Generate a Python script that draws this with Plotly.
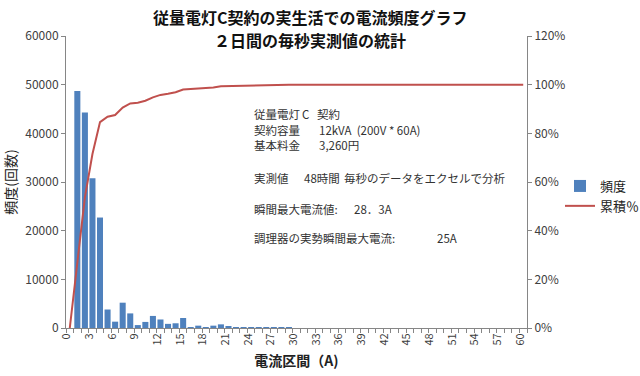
import plotly.graph_objects as go

# ---- data ----
current_bins = list(range(0, 61))
frequency = [0, 48700, 44300, 30750, 22700, 3800, 1300, 5200, 3000, 600,
             1250, 2480, 1750, 850, 970, 2060, 200, 480, 200, 480,
             750, 280, 200, 200, 150, 50, 100, 100, 100, 100] + [0] * 31
cumulative_pct = [0.0, 28.1, 53.7, 71.5, 84.6, 86.8, 87.5, 90.6, 92.3, 92.6,
                  93.4, 94.8, 95.8, 96.3, 96.9, 98.0, 98.2, 98.4, 98.5, 98.8,
                  99.3, 99.4, 99.5, 99.7, 99.7, 99.8, 99.8, 99.9, 99.9, 100.0] + [100.0] * 31
x_tick_labels = [str(v) for v in range(0, 61, 3)]

FONT = "Noto Sans CJK JP"
TXT = "#404040"

fig = go.Figure()
fig.add_trace(go.Bar(x=current_bins, y=frequency, name="頻度",
                     marker=dict(color="#4F81BD", line=dict(width=0))))
fig.add_trace(go.Scatter(x=current_bins, y=[v / 100 for v in cumulative_pct], name="累積％",
                         mode="lines", line=dict(color="#C0504D", width=2), yaxis="y2"))

L, R, T, B = 66, 113, 36, 48
W, H = 640, 376
pw, ph = W - L - R, H - T - B


def px(x):
    return (x - L) / pw


def py(y):
    return (H - B - y) / ph


fig.update_layout(
    width=W, height=H,
    margin=dict(l=L, r=R, t=T, b=B, autoexpand=False),
    paper_bgcolor="white", plot_bgcolor="white",
    font=dict(family=FONT, color=TXT, size=12),
    bargap=0.2,
    showlegend=True,
    legend=dict(x=px(560), y=py(196), xanchor="left", yanchor="middle",
                font=dict(size=13, color="#222"), bgcolor="rgba(0,0,0,0)",
                tracegroupgap=2, itemwidth=30),
    xaxis=dict(range=[-0.5, 60.5], tickmode="array", automargin=False,
               tickvals=list(range(0, 61, 3)), ticktext=x_tick_labels,
               tickangle=-90, ticks="", showgrid=False, zeroline=False,
               showline=True, linecolor="#868686", linewidth=1,
               tickfont=dict(size=11, color=TXT), ticklabelshift=-3,
               minor=dict(tickmode="linear", tick0=0.5, dtick=1, ticks="outside",
                          ticklen=4, tickcolor="#868686", showgrid=False),
               title=dict(text="<b>電流区間（A)</b>", font=dict(size=14, color="#222"),
                          standoff=11)),
    yaxis=dict(range=[0, 60000], dtick=10000, tickformat="d", automargin=False,
               showgrid=False, zeroline=False,
               showline=True, linecolor="#868686", ticks="outside", ticklen=4,
               tickcolor="#868686", tickfont=dict(size=12, color=TXT),
               title=dict(text="頻度(回数)", font=dict(size=14, color="#222"), standoff=6)),
    yaxis2=dict(range=[0, 1.2], dtick=0.2, tickformat=".0%", overlaying="y", side="right",
                automargin=False,
                showgrid=False, zeroline=False, showline=True, linecolor="#868686",
                ticks="outside", ticklen=4, tickcolor="#868686",
                tickfont=dict(size=12, color=TXT)),
)

# title
fig.add_annotation(text="<b>従量電灯C契約の実生活での電流頻度グラフ</b>", xref="paper", yref="paper",
                   x=px(310), y=py(17), xanchor="center", yanchor="middle", showarrow=False,
                   font=dict(size=16, color="#111"))
fig.add_annotation(text="<b>２日間の毎秒実測値の統計</b>", xref="paper", yref="paper",
                   x=px(310), y=py(40), xanchor="center", yanchor="middle", showarrow=False,
                   font=dict(size=16, color="#111"))

# text block
segments = [
    ("従量電灯", 252, 114), ("C", 300, 114), ("契約", 315, 114),
    ("契約容量", 252, 130), ("12kVA  (200V * 60A)", 317, 130),
    ("基本料金", 252, 145), ("3,260円", 317, 145),
    ("実測値", 252, 178), ("48時間", 302, 178), ("毎秒のデータをエクセルで分析", 342, 178),
    ("瞬間最大電流値:", 252, 209), ("28．3A", 352, 209),
    ("調理器の実勢瞬間最大電流:", 252, 238), ("25A", 435, 238),
]
for txt, x, y in segments:
    fig.add_annotation(text=txt, xref="paper", yref="paper", x=px(x), y=py(y),
                       xanchor="left", yanchor="middle", showarrow=False,
                       font=dict(size=11.5, color="#333"))

fig.write_html("out.html", config={"displayModeBar": False},
               post_script="document.body.style.margin='0';document.body.style.padding='0';")
